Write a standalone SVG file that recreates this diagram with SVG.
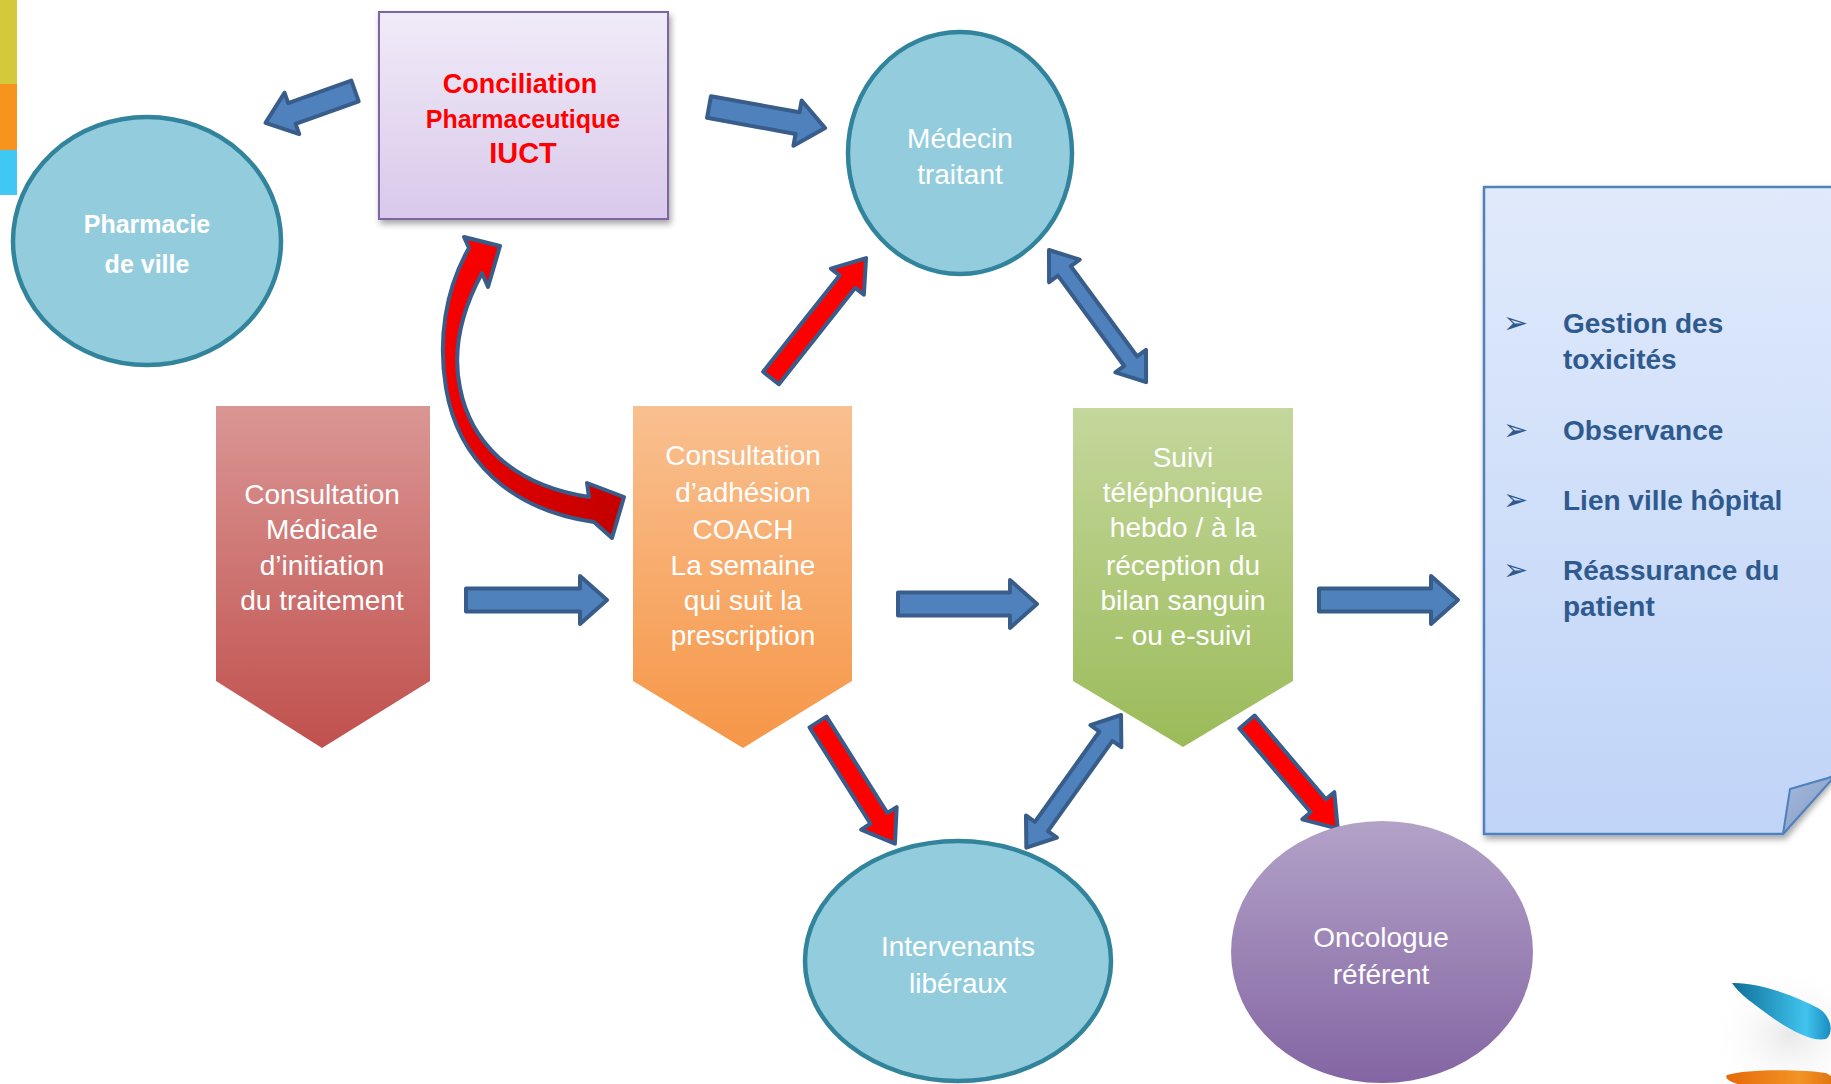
<svg xmlns="http://www.w3.org/2000/svg" width="1831" height="1084" viewBox="0 0 1831 1084">
<defs>
<style>
.ell{fill:#93CDDD;stroke:#31849B;stroke-width:4.5}
.wt{fill:#FFFFFF;font-family:"Liberation Sans",Arial,sans-serif;font-size:28px;text-anchor:middle}
.bt{fill:#FFFFFF;font-family:"Liberation Sans",Arial,sans-serif;font-size:25px;font-weight:bold;text-anchor:middle}
.rt{fill:#FF0000;font-family:"Liberation Sans",Arial,sans-serif;font-weight:bold;text-anchor:middle}
.lt{fill:#2F5A8E;font-family:"Liberation Sans",Arial,sans-serif;font-size:28px;font-weight:bold}
.bul{fill:#2F5A8E;font-family:"DejaVu Sans",sans-serif;font-size:30px}
.ba{fill:#4F81BD;stroke:#385D8A;stroke-width:4;stroke-linejoin:round}
.ra{fill:#FF0000;stroke:#385D8A;stroke-width:4;stroke-linejoin:round}
</style>
<linearGradient id="gLav" x1="0" y1="0" x2="0" y2="1"><stop offset="0" stop-color="#F0EBF8"/><stop offset="1" stop-color="#D9C9EA"/></linearGradient>
<linearGradient id="gRed" x1="0" y1="0" x2="0" y2="1"><stop offset="0" stop-color="#DA9694"/><stop offset="1" stop-color="#C0504D"/></linearGradient>
<linearGradient id="gOr" x1="0" y1="0" x2="0" y2="1"><stop offset="0" stop-color="#F9C090"/><stop offset="1" stop-color="#F69647"/></linearGradient>
<linearGradient id="gGr" x1="0" y1="0" x2="0" y2="1"><stop offset="0" stop-color="#C4D79C"/><stop offset="1" stop-color="#9BBB59"/></linearGradient>
<linearGradient id="gPu" x1="0" y1="0" x2="0" y2="1"><stop offset="0" stop-color="#B3A2C8"/><stop offset="1" stop-color="#8365A3"/></linearGradient>
<linearGradient id="gNote" x1="0" y1="0" x2="0" y2="1"><stop offset="0" stop-color="#E0EAFB"/><stop offset="1" stop-color="#C0D4F8"/></linearGradient>
<linearGradient id="gFold" x1="0" y1="0" x2="1" y2="1"><stop offset="0" stop-color="#A6BBDD"/><stop offset="1" stop-color="#8097C4"/></linearGradient>
<linearGradient id="gCurve" x1="0" y1="0" x2="1" y2="1"><stop offset="0" stop-color="#FF0000"/><stop offset="0.55" stop-color="#E00000"/><stop offset="1" stop-color="#C00000"/></linearGradient>
<linearGradient id="gSwB" x1="0" y1="0" x2="1" y2="0"><stop offset="0" stop-color="#0E6E98"/><stop offset="0.75" stop-color="#40C4EE"/><stop offset="1" stop-color="#1A8CC0"/></linearGradient>
<linearGradient id="gSwO" x1="0" y1="0" x2="1" y2="0"><stop offset="0" stop-color="#E56A0A"/><stop offset="0.7" stop-color="#F39325"/><stop offset="1" stop-color="#E27510"/></linearGradient>
<radialGradient id="gGlow" cx="0.5" cy="0.5" r="0.5"><stop offset="0" stop-color="#E6E6E6" stop-opacity="0.9"/><stop offset="1" stop-color="#FFFFFF" stop-opacity="0"/></radialGradient>
<filter id="shadow" x="-10%" y="-10%" width="130%" height="130%"><feDropShadow dx="2" dy="4" stdDeviation="3" flood-color="#000000" flood-opacity="0.35"/></filter>
</defs>
<rect width="1831" height="1084" fill="#FFFFFF"/>
<g id="side-bars">
<rect x="0" y="0" width="17" height="84" fill="#D4C93A"/>
<rect x="0" y="84" width="17" height="66" fill="#F7941E"/>
<rect x="0" y="150" width="17" height="45" fill="#40C8F4"/>
</g>
<g id="logo">
<ellipse cx="1790" cy="1035" rx="80" ry="70" fill="url(#gGlow)"/>
<path d="M1732 983 C1760 982 1800 998 1818 1008 C1832 1016 1834 1034 1826 1039 C1812 1042 1790 1030 1770 1016 C1755 1005 1738 993 1732 983 Z" fill="url(#gSwB)"/>
<path d="M1727 1075 C1745 1069 1800 1069 1826 1073 L1831 1076 L1831 1084 L1738 1084 C1730 1082 1724 1078 1727 1075 Z" fill="url(#gSwO)"/>
</g>
<g id="connectors">
<polygon class="ba" transform="translate(355,91) rotate(160.4)" points="0,-11 67,-11 67,-22 95,0 67,22 67,11 0,11"/>
<polygon class="ba" transform="translate(709,107) rotate(10.3)" points="0,-11 90,-11 90,-23 118,0 90,23 90,11 0,11"/>
<polygon class="ba" transform="translate(466,600)" points="0,-11.5 114,-11.5 114,-24 141,0 114,24 114,11.5 0,11.5"/>
<polygon class="ba" transform="translate(898,604)" points="0,-11.5 112,-11.5 112,-24 139,0 112,24 112,11.5 0,11.5"/>
<polygon class="ba" transform="translate(1319,600)" points="0,-11.5 112,-11.5 112,-24 139,0 112,24 112,11.5 0,11.5"/>
<polygon class="ba" transform="translate(1049,250) rotate(53.7)" points="0,0 26,-19 26,-8 138,-8 138,-19 164,0 138,19 138,8 26,8 26,19"/>
<polygon class="ba" transform="translate(1121,715) rotate(125.5)" points="0,0 26,-19 26,-8 137,-8 137,-19 163,0 137,19 137,8 26,8 26,19"/>
<polygon class="ra" transform="translate(771,378) rotate(-51.6)" points="0,-10 123,-10 123,-21 153,0 123,21 123,10 0,10"/>
<polygon class="ra" transform="translate(818,722) rotate(57.7)" points="0,-10 114,-10 114,-21 144,0 114,21 114,10 0,10"/>
<polygon class="ra" transform="translate(1247,722) rotate(49.6)" points="0,-10 110,-10 110,-21 140,0 110,21 110,10 0,10"/>
<path fill="url(#gCurve)" stroke="#385D8A" stroke-width="4" stroke-linejoin="round" d="M464 237 L500 246 L488 287 L482 273 C462 310 452 350 460 388 C470 440 510 485 589 497 L587 483 L624 497 L612 538 L594 522 C510 510 458 460 446 388 C438 340 445 290 469 248 Z"/>
</g>
<g id="pharmacie">
<ellipse class="ell" cx="147" cy="241" rx="134" ry="124"/>
<text class="bt" x="147" y="233">Pharmacie</text>
<text class="bt" x="147" y="273">de ville</text>
</g>
<g id="conciliation">
<rect x="379" y="12" width="289" height="207" fill="url(#gLav)" stroke="#8064A2" stroke-width="2" filter="url(#shadow)"/>
<text class="rt" x="520" y="93" font-size="27">Conciliation</text>
<text class="rt" x="523" y="128" font-size="25">Pharmaceutique</text>
<text class="rt" x="523" y="163" font-size="29">IUCT</text>
</g>
<g id="medecin">
<ellipse class="ell" cx="960" cy="153" rx="112" ry="121"/>
<text class="wt" x="960" y="148">Médecin</text>
<text class="wt" x="960" y="184">traitant</text>
</g>
<g id="consultation-medicale">
<polygon points="216,406 430,406 430,681 322,748 216,681" fill="url(#gRed)"/>
<text class="wt" x="322" y="504">Consultation</text>
<text class="wt" x="322" y="539">Médicale</text>
<text class="wt" x="322" y="575">d’initiation</text>
<text class="wt" x="322" y="610">du traitement</text>
</g>
<g id="consultation-adhesion">
<polygon points="633,406 852,406 852,681 743,748 633,681" fill="url(#gOr)"/>
<text class="wt" x="743" y="465">Consultation</text>
<text class="wt" x="743" y="502">d’adhésion</text>
<text class="wt" x="743" y="539">COACH</text>
<text class="wt" x="743" y="575">La semaine</text>
<text class="wt" x="743" y="610">qui suit la</text>
<text class="wt" x="743" y="645">prescription</text>
</g>
<g id="suivi">
<polygon points="1073,408 1293,408 1293,681 1183,747 1073,681" fill="url(#gGr)"/>
<text class="wt" x="1183" y="467">Suivi</text>
<text class="wt" x="1183" y="502">téléphonique</text>
<text class="wt" x="1183" y="537">hebdo / à la</text>
<text class="wt" x="1183" y="575">réception du</text>
<text class="wt" x="1183" y="610">bilan sanguin</text>
<text class="wt" x="1183" y="645">- ou e-suivi</text>
</g>
<g id="intervenants">
<ellipse class="ell" cx="958" cy="961" rx="153" ry="120"/>
<text class="wt" x="958" y="956">Intervenants</text>
<text class="wt" x="958" y="993">libéraux</text>
</g>
<g id="oncologue">
<ellipse cx="1382" cy="952" rx="151" ry="131" fill="url(#gPu)"/>
<text class="wt" x="1381" y="947">Oncologue</text>
<text class="wt" x="1381" y="984">référent</text>
</g>
<g id="note">
<path d="M1484 187 L1835 187 L1835 777 L1831 777 L1783 834 L1484 834 Z" fill="url(#gNote)" stroke="#4F81BD" stroke-width="2.5" filter="url(#shadow)"/>
<path d="M1783 834 L1790 789 L1835 776 Z" fill="url(#gFold)" stroke="#4F81BD" stroke-width="2" stroke-linejoin="round"/>
<text class="bul" x="1503" y="333">➢</text>
<text class="bul" x="1503" y="440">➢</text>
<text class="bul" x="1503" y="510">➢</text>
<text class="bul" x="1503" y="580">➢</text>
<text class="lt" x="1563" y="333">Gestion des</text>
<text class="lt" x="1563" y="369">toxicités</text>
<text class="lt" x="1563" y="440">Observance</text>
<text class="lt" x="1563" y="510">Lien ville hôpital</text>
<text class="lt" x="1563" y="580">Réassurance du</text>
<text class="lt" x="1563" y="616">patient</text>
</g>
</svg>
